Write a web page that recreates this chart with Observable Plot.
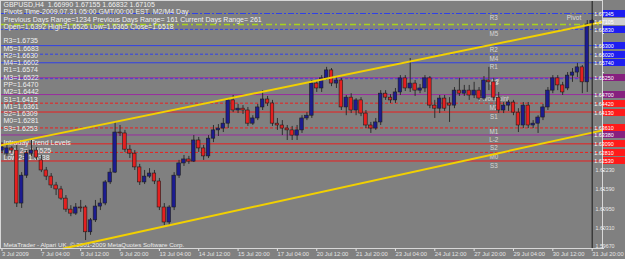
<!DOCTYPE html>
<html><head><meta charset="utf-8">
<script src="https://cdn.jsdelivr.net/npm/d3@7"></script>
<script src="https://cdn.jsdelivr.net/npm/@observablehq/plot@0.6"></script>
<style>
html,body{margin:0;padding:0;background:#808080;overflow:hidden;}
#chart svg{display:block;}
</style></head><body><div id="chart"></div>
<script>
// ---- data (GBPUSD H4, 3 Jul – 31 Jul 2009) ----
const opens = [
1.6287,1.6277,1.6294,1.6287,1.6114,1.6205,1.6277,1.6287,1.6255,1.6222,
1.6202,1.6173,1.6160,1.6130,1.6094,1.6081,1.6101,1.6101,1.6020,1.6059,
1.6104,1.6114,1.6183,1.6215,1.6346,1.6343,1.6290,1.6277,1.6232,1.6183,
1.6202,1.6212,1.6186,1.6101,1.6052,1.6101,1.6205,1.6245,1.6258,1.6251,
1.6320,1.6294,1.6268,1.6326,1.6353,1.6359,1.6375,1.6451,1.6418,1.6424,
1.6418,1.6375,1.6392,1.6428,1.6454,1.6441,1.6375,1.6369,1.6359,1.6353,
1.6336,1.6353,1.6392,1.6401,1.6506,1.6490,1.6523,1.6549,1.6506,1.6516,
1.6428,1.6460,1.6418,1.6451,1.6408,1.6369,1.6359,1.6379,1.6473,1.6460,
1.6451,1.6477,1.6523,1.6490,1.6506,1.6483,1.6490,1.6523,1.6434,1.6424,
1.6457,1.6441,1.6434,1.6483,1.6473,1.6483,1.6467,1.6483,1.6457,1.6516,
1.6510,1.6460,1.6418,1.6434,1.6444,1.6411,1.6369,1.6434,1.6369,1.6375,
1.6395,1.6428,1.6483,1.6523,1.6500,1.6490,1.6532,1.6542,1.6559,1.6510,
1.66990];
const highs = [
1.6313,1.6304,1.6300,1.6304,1.6215,1.6287,1.6320,1.6297,1.6271,1.6232,
1.6212,1.6183,1.6170,1.6140,1.6107,1.6114,1.6124,1.6107,1.6065,1.6124,
1.6130,1.6189,1.6228,1.6379,1.6369,1.6353,1.6304,1.6287,1.6242,1.6222,
1.6228,1.6222,1.6196,1.6114,1.6107,1.6215,1.6255,1.6271,1.6268,1.6336,
1.6330,1.6304,1.6336,1.6369,1.6372,1.6392,1.6457,1.6467,1.6438,1.6434,
1.6428,1.6401,1.6438,1.6483,1.6464,1.6451,1.6392,1.6385,1.6369,1.6366,
1.6369,1.6401,1.6411,1.6516,1.6516,1.6532,1.6559,1.6555,1.6529,1.6523,
1.6467,1.6473,1.6457,1.6460,1.6418,1.6379,1.6392,1.6483,1.6483,1.6470,
1.6490,1.6532,1.6532,1.6588,1.6516,1.6503,1.6532,1.6529,1.6451,1.6467,
1.6467,1.6460,1.6493,1.6523,1.6500,1.6500,1.6510,1.6493,1.6529,1.6559,
1.6523,1.6477,1.6444,1.6451,1.6451,1.6424,1.6444,1.6444,1.6385,1.6401,
1.6438,1.6493,1.6532,1.6532,1.6510,1.6542,1.6555,1.6572,1.6565,1.6712,
1.67155];
const lows = [
1.6277,1.6268,1.6277,1.6101,1.6098,1.6196,1.6268,1.6255,1.6215,1.6189,
1.6163,1.6140,1.6124,1.6085,1.6071,1.6075,1.6085,1.5993,1.6010,1.6052,
1.6091,1.6107,1.6176,1.6212,1.6333,1.6281,1.6261,1.6222,1.6173,1.6176,
1.6196,1.6176,1.6091,1.6042,1.6039,1.6091,1.6196,1.6235,1.6242,1.6248,
1.6281,1.6255,1.6261,1.6313,1.6333,1.6346,1.6359,1.6411,1.6408,1.6405,
1.6366,1.6369,1.6385,1.6418,1.6431,1.6366,1.6353,1.6336,1.6320,1.6320,
1.6320,1.6343,1.6385,1.6392,1.6477,1.6477,1.6516,1.6496,1.6490,1.6418,
1.6401,1.6408,1.6401,1.6398,1.6359,1.6343,1.6353,1.6369,1.6451,1.6441,
1.6441,1.6467,1.6480,1.6477,1.6464,1.6473,1.6477,1.6424,1.6392,1.6408,
1.6415,1.6379,1.6424,1.6464,1.6464,1.6451,1.6457,1.6451,1.6451,1.6483,
1.6451,1.6408,1.6408,1.6415,1.6401,1.6346,1.6359,1.6359,1.6359,1.6343,
1.6385,1.6418,1.6473,1.6483,1.6467,1.6483,1.6510,1.6526,1.6473,1.6477,
1.66832];
const closes = [
1.6297,1.6294,1.6287,1.6114,1.6205,1.6277,1.6287,1.6264,1.6222,1.6202,
1.6173,1.6160,1.6130,1.6094,1.6081,1.6101,1.6098,1.6020,1.6059,1.6104,
1.6114,1.6183,1.6215,1.6346,1.6343,1.6290,1.6277,1.6232,1.6183,1.6202,
1.6212,1.6186,1.6101,1.6052,1.6101,1.6205,1.6245,1.6258,1.6251,1.6320,
1.6294,1.6268,1.6326,1.6353,1.6359,1.6375,1.6451,1.6418,1.6424,1.6418,
1.6375,1.6392,1.6428,1.6454,1.6441,1.6375,1.6369,1.6359,1.6353,1.6336,
1.6353,1.6392,1.6401,1.6506,1.6490,1.6523,1.6549,1.6506,1.6516,1.6428,
1.6460,1.6418,1.6451,1.6408,1.6369,1.6359,1.6379,1.6473,1.6460,1.6451,
1.6477,1.6523,1.6490,1.6506,1.6483,1.6490,1.6523,1.6434,1.6424,1.6457,
1.6424,1.6434,1.6483,1.6473,1.6483,1.6467,1.6483,1.6457,1.6516,1.6510,
1.6460,1.6418,1.6434,1.6444,1.6411,1.6369,1.6434,1.6369,1.6375,1.6395,
1.6428,1.6483,1.6523,1.6500,1.6477,1.6532,1.6542,1.6559,1.6510,1.6699,
1.67105];

const xTickBars = [0,8,16,24,32,40,48,56,64,72,80,88,96,104,112,120];
const xTickLabels = ["3 Jul 2009","7 Jul 04:00","8 Jul 12:00","9 Jul 20:00","13 Jul 04:00","14 Jul 12:00",
  "15 Jul 20:00","17 Jul 04:00","20 Jul 12:00","21 Jul 20:00","23 Jul 04:00","24 Jul 12:00",
  "27 Jul 20:00","29 Jul 04:00","30 Jul 12:00","31 Jul 20:00"];
const yTickValues = [1.59670,1.60310,1.60950,1.61590,1.62230,1.62870,1.63510,1.64150,1.64790,1.65430,1.66070,1.66710,1.67350];

// pivot levels
const levelNames  = ["R3","M5","R2","M4","R1","M3","PP","M2","S1","M1","S2","M0","S3"];
const levelValues = [1.6735,1.6683,1.6630,1.6602,1.6574,1.6522,1.6470,1.6442,1.6413,1.6361,1.6309,1.6281,1.6253];
const levelChartLabels = ["R3","M5","R2","M4","R1","M3","Pivot Point","M2","S1","M1","S2","M0","S3"];
// intraday trend levels
const trendLevelNames = ["H-2","L-2"];
const trendLevelValues = [1.6525,1.6338];
const extraLevelValue = 1.6699; // yellow-green dash-dot line

// right-hand price boxes
const boxValues = [1.67345,1.67105,1.66830,1.66300,1.66020,1.65740,1.65250,1.64700,1.64420,1.64130,1.63610,1.63380,1.63090,1.62810,1.62530];
const boxKinds  = ["R","B","R","R","R","R","T","P","S","S","S","T","S","S","S"];

// trend channel lines (bar index, price)
const upperBars = [-0.3, 122.1];
const upperPrices = [1.6304, 1.6707];
const lowerBars = [12.5, 122.1];
const lowerPrices = [1.5967, 1.6353];

const headerLines = [
  "GBPUSD,H4  1.66990 1.67155 1.66832 1.67105",
  "Pivots Time-2009.07.31 05:00 GMT/00:00 EST  M2/M4 Day",
  "Previous Days Range=1234 Previous Days Range= 161 Current Days Range= 261",
  "Open=1.6392 High=1.6526 Low=1.6365 Close=1.6518"
];
const trendTitle = "Intraday Trend Levels";
const copyright = "MetaTrader - Alpari UK, © 2001-2009 MetaQuotes Software Corp.";
const lastBar = 120;
const pivotTag = {bar: 116.3, price: 1.6722, text: "Pivot"};

// ---- build ----
const bars = opens.map((o, i) => ({i, open: o, high: highs[i], low: lows[i], close: closes[i]}));
const levels = levelNames.map((n, k) => ({name: n, value: levelValues[k], label: levelChartLabels[k]}));
const fmt4 = d3.format(".4f"), fmt5 = d3.format(".5f");
const leftText = [
  ...headerLines, "",
  ...levels.map(d => `${d.name}=${fmt4(d.value)}`), "",
  trendTitle,
  `High 2= ${fmt4(trendLevelValues[0])}`,
  `Low 2= ${fmt4(trendLevelValues[1])}`
].join("\n");

const BLUE = "#3040e8", RED = "#ec1e1e", PURPLE = "#9a2ca0";
const isBlue = n => n.startsWith("R") || (n.startsWith("M") && +n[1] >= 3);
const solid = levels.filter(d => /^(R|S)/.test(d.name) && d.name !== "R3");
const dashed = levels.filter(d => d.name.startsWith("M"));
const pp = levels.filter(d => d.name === "PP");
const r3 = levels.filter(d => d.name === "R3");
const trendLv = trendLevelNames.map((n, k) => ({name: n, value: trendLevelValues[k]}));
const labelOf = new Map(xTickBars.map((b, k) => [b, xTickLabels[k]]));
const boxFill = {R: "#1e1ef0", B: "#cfcfcf", T: "#86207f", P: "#86207f", S: "#ff1a1a"};
const FONT = "Liberation Sans, Arial, sans-serif";

// right-hand price scale: ticks + coloured level boxes, positioned with Plot's y scale
function priceScale(index, scales, values, dims) {
  const g = d3.create("svg:g").attr("font-family", FONT).attr("font-size", 5.6);
  const x0 = dims.width - dims.marginRight;
  const boxY = boxValues.map(v => Math.round(scales.y(v)));
  for (const v of yTickValues) {
    const y = Math.round(scales.y(v));
    g.append("line").attr("x1", x0).attr("x2", x0 + 2).attr("y1", y + 0.5).attr("y2", y + 0.5).attr("stroke", "#e4e4e4");
    if (boxY.some(b => Math.abs(b - y) < 6)) continue;
    g.append("text").attr("x", x0 + 3).attr("y", Math.min(y, dims.height - dims.marginBottom - 2)).attr("dy", "0.36em")
      .attr("fill", "#e8e8e8").attr("textLength", 19).attr("lengthAdjust", "spacingAndGlyphs").text(fmt5(v));
  }
  boxValues.forEach((v, k) => {
    const y = boxY[k];
    g.append("rect").attr("x", x0 + 1).attr("y", y - 3).attr("width", dims.marginRight - 1).attr("height", 7)
      .attr("fill", boxFill[boxKinds[k]]);
    g.append("text").attr("x", x0 + 2).attr("y", y + 0.5).attr("dy", "0.36em").attr("fill", "#ffffff")
      .attr("textLength", 19.5).attr("lengthAdjust", "spacingAndGlyphs").text(fmt5(v));
  });
  return g.node();
}

const chart = Plot.plot({
  width: 625, height: 259,
  marginLeft: 0, marginRight: 23, marginTop: 0, marginBottom: 11,
  x: {domain: [-0.305, 122.1], axis: null},
  y: {domain: [1.5967, 1.67775], axis: null},
  style: {background: "#808080", color: "#e8e8e8", fontFamily: FONT, fontSize: "6.5px", overflow: "visible"},
  marks: [
    Plot.axisX(xTickBars, {anchor: "bottom", tickSize: 3, tickPadding: 0, tickFormat: d => labelOf.get(d), textAnchor: "start", fontSize: 5.8, color: "#e4e4e4", label: null}),
    // level lines
    Plot.ruleY(solid, {y: "value", stroke: d => isBlue(d.name) ? BLUE : RED, strokeWidth: 1}),
    Plot.ruleY(dashed, {y: "value", stroke: d => isBlue(d.name) ? BLUE : RED, strokeWidth: 1, strokeDasharray: "3,2"}),
    Plot.ruleY(r3, {y: "value", stroke: BLUE, strokeWidth: 1, strokeDasharray: "6,2,2,2"}),
    Plot.ruleY([extraLevelValue], {stroke: "#a8d21e", strokeWidth: 1.5, strokeDasharray: "6,3,2,3"}),
    Plot.ruleY(pp, {y: "value", stroke: PURPLE, strokeWidth: 1}),
    Plot.ruleY(trendLv, {y: "value", stroke: PURPLE, strokeWidth: 1}),
    // in-chart level labels
    Plot.text(levels, {x: 100, y: "value", text: "label", dy: 4.5, fill: "#d6d6d6", fontSize: 6.3}),
    Plot.text(trendLv, {x: 100, y: "value", text: "name", dy: 4.5, fill: "#d6d6d6", fontSize: 6.3}),
    // left text block
    Plot.text([leftText], {frameAnchor: "top-left", dx: 3, dy: 1.3, lineHeight: 1.04, fill: "#f0f0f0", fontSize: 7}),
    Plot.text([copyright], {frameAnchor: "bottom-left", dx: 3, dy: -2, fill: "#ececec", fontSize: 6.2}),
    // candles
    Plot.ruleX(bars, {x: "i", y1: "low", y2: "high", stroke: "#2e2e2e", strokeWidth: 1}),
    Plot.rect(bars, {x1: d => d.i - 0.36, x2: d => d.i + 0.36, y1: "open", y2: "close",
      fill: d => d.close >= d.open ? "#1c1c90" : "#e42020", stroke: "#1e1e1e", strokeWidth: 0.6}),
    // trend channel
    Plot.line(upperBars.map((b, k) => ({b, p: upperPrices[k]})), {x: "b", y: "p", stroke: "#f2d000", strokeWidth: 2}),
    Plot.line(lowerBars.map((b, k) => ({b, p: lowerPrices[k]})), {x: "b", y: "p", stroke: "#f2d000", strokeWidth: 2}),
    Plot.ruleX([lastBar], {stroke: "#1a1a1a", strokeWidth: 1}),
    Plot.text([pivotTag], {x: "bar", y: "price", text: "text", fill: "#dcdcdc", fontSize: 6.5}),
    Plot.frame({stroke: "#d8d8d8"}),
    priceScale
  ]
});
document.getElementById("chart").append(chart);
</script>
</body></html>
